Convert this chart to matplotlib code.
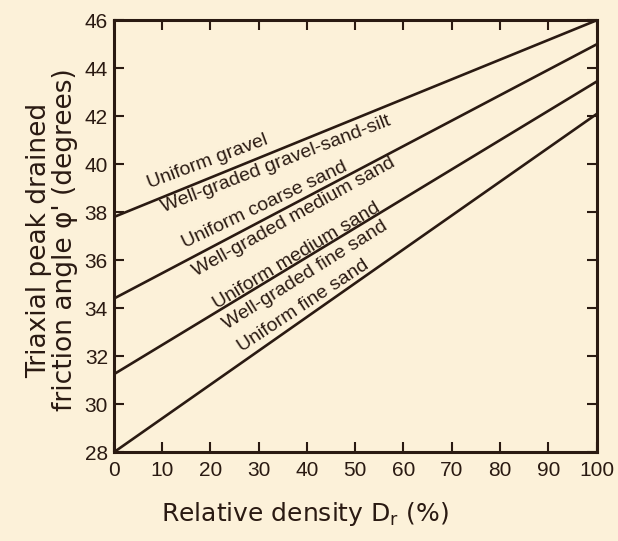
import matplotlib
matplotlib.use('Agg')
import matplotlib.pyplot as plt

# data
density = [0, 100]
line_starts = [37.8, 34.4, 31.25, 28.0]
line_ends = [46.0, 45.0, 43.45, 42.1]

soil_labels = ['Uniform gravel', 'Well-graded gravel-sand-silt',
               'Uniform coarse sand', 'Well-graded medium sand',
               'Uniform medium sand', 'Well-graded fine sand',
               'Uniform fine sand']
label_x = [19.5, 33.6, 31.3, 37.3, 38.4, 39.6, 39.2]
label_y = [40.1, 40.0, 38.3, 37.8, 36.03, 35.4, 34.1]
label_va = ['center', 'center', 'center', 'center', 'baseline', 'center', 'center']
label_angle = [20.5, 21, 25.5, 29, 31, 32, 33.5]

x_ticks = list(range(0, 101, 10))
y_ticks = list(range(28, 47, 2))

bg = '#fcf1d9'
ink = '#2a1a12'

plt.rcParams['font.family'] = ['Liberation Sans', 'DejaVu Sans']

fig = plt.figure(figsize=(6.18, 5.41), dpi=100, facecolor=bg)
ax = fig.add_axes([0.1837, 0.1636, 0.782, 0.799])
ax.set_facecolor(bg)

for y0, y1 in zip(line_starts, line_ends):
    ax.plot(density, [y0, y1], color=ink, lw=1.9, solid_capstyle='butt')

for txt, x, y, va, a in zip(soil_labels, label_x, label_y, label_va, label_angle):
    ax.text(x, y, txt, rotation=a, ha='center', va=va,
            fontsize=14, color=ink, rotation_mode='anchor')

ax.set_xlim(0, 100)
ax.set_ylim(28, 46)
ax.set_xticks(x_ticks)
ax.set_yticks(y_ticks)
ax.tick_params(direction='in', top=True, right=True, length=7, width=1.5,
               color=ink, labelcolor=ink, labelsize=15)
ax.tick_params(axis='x', pad=6)
ax.tick_params(axis='y', pad=4)
for s in ax.spines.values():
    s.set_linewidth(2.2)
    s.set_color(ink)

# axis titles, placed by hand like the scan (x title sits left of centre)
fig.text(305 / 618, 1 - 521 / 541, 'Relative density D$_\\mathregular{r}$ (%)',
         ha='center', va='baseline', fontsize=18, color=ink,
         family=['DejaVu Sans'])
fig.text(52 / 618, 1 - 240 / 541,
         "Triaxial peak drained\nfriction angle \u03c6' (degrees)",
         rotation=90, ha='center', va='center', fontsize=19, color=ink,
         linespacing=1.0, family=['DejaVu Sans'])

fig.savefig('out.png', dpi=100, facecolor=bg)
